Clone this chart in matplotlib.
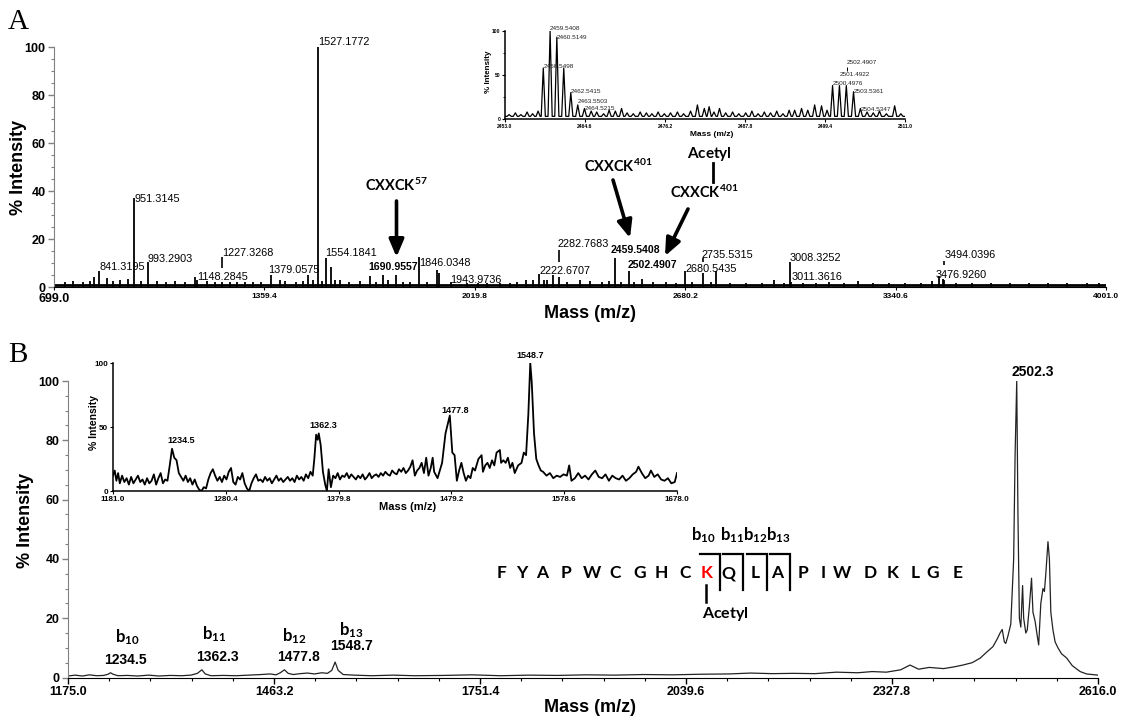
import matplotlib
matplotlib.use("Agg")
import matplotlib.pyplot as plt
from matplotlib.ticker import MultipleLocator, FixedLocator, NullLocator
from matplotlib.patches import FancyArrowPatch
from matplotlib.lines import Line2D

plt.rcParams["font.family"] = ["Liberation Sans", "DejaVu Sans"]
plt.rcParams["mathtext.fontset"] = "custom"
plt.rcParams["mathtext.bf"] = "Lato:bold"
plt.rcParams["mathtext.rm"] = "Lato"
plt.rcParams["mathtext.it"] = "Lato:italic"

# ---------------- data: panel A, full MS spectrum (centroid peaks) ----------------
spec_a_mz = [
    735, 760, 790, 812, 824.5, 841.3195, 864, 885, 906, 932,
    951.3145, 972, 993.2903, 1021, 1050, 1078.7, 1110, 1141, 1148.2845, 1178,
    1205, 1227.3268, 1250, 1272, 1300, 1323, 1350, 1379.0575, 1408, 1424,
    1460, 1480, 1497, 1512, 1527.1772, 1540, 1554.1841, 1568, 1581, 1596.5,
    1624.6, 1659, 1690.9557, 1710, 1732, 1747, 1774, 1795, 1816, 1846.0348,
    1870, 1901.8, 1907, 1943.9736, 1994, 2030, 2056.6, 2098, 2130, 2151,
    2182, 2202, 2222.6707, 2235.5, 2245, 2265, 2282.7683, 2310, 2349, 2381,
    2420, 2440, 2459.5408, 2480, 2502.4907, 2520, 2544, 2580, 2620, 2650,
    2680.5435, 2700, 2735.5315, 2760, 2776, 2820, 2870, 2920, 2958, 2990,
    3008.3252, 3011.3616, 3050, 3090, 3132, 3180, 3224, 3270, 3320, 3370,
    3420, 3454, 3476.9260, 3488, 3494.0396, 3530, 3580, 3640, 3700, 3760,
    3820, 3880, 3940, 3980]
spec_a_int = [
    2, 2.5, 2, 2.5, 4, 6.5, 3.7, 2.5, 3, 3.5,
    37, 2.5, 10.5, 2.5, 2, 2.5, 2, 4, 3, 2.5,
    2, 2, 2, 2, 2, 2, 2, 5, 3, 2.5,
    2, 2.5, 5, 3, 100, 2.5, 12, 8.5, 3, 3,
    2, 2.5, 4.5, 2, 5, 3, 5, 2, 2, 12.5,
    2, 7, 6, 2, 1.5, 1.5, 1.5, 1.5, 1.5, 2,
    3, 3, 5.5, 3, 3, 5, 4, 2, 3, 2.5,
    2, 2.5, 12, 2, 6.8, 2, 3.5, 2, 2, 1.5,
    6.8, 2, 6, 2, 6.5, 1.5, 1.5, 1.5, 3, 1.5,
    10.5, 2, 1.5, 1.5, 2, 1.5, 2.5, 1.5, 1.5, 1.5,
    1.5, 2.5, 4.5, 3.5, 3, 1.5, 1.5, 1.5, 1.5, 1.5,
    1.5, 1.5, 1.5, 1.5]
spec_a_baseline = 0.7

# labelled peaks of panel A
a_label_mz = [841.3195, 951.3145, 993.2903, 1148.2845, 1227.3268, 1379.0575,
              1527.1772, 1554.1841, 1690.9557, 1846.0348, 1943.9736, 2222.6707,
              2282.7683, 2459.5408, 2502.4907, 2680.5435, 2735.5315, 3008.3252,
              3011.3616, 3494.0396, 3476.9260]
a_label_bold = [1690.9557, 2459.5408, 2502.4907]

# inset of panel A: zoom on the 2453-2511 region
inset_a_peak_mz = [2458.5498, 2459.5408, 2460.5149, 2461.52, 2462.5415, 2463.5503,
                   2464.5215, 2500.4976, 2501.4922, 2502.4907, 2503.5361, 2504.5347]
inset_a_peak_int = [58, 100, 93, 58, 30, 16, 12, 38, 38, 38, 31, 12]
inset_a_labelled = [2458.5498, 2459.5408, 2460.5149, 2462.5415, 2463.5503, 2464.5215,
                    2500.4976, 2501.4922, 2502.4907, 2503.5361, 2504.5347]
inset_a_noise_mz = [
    2453.6, 2454.5, 2455.3, 2456.2, 2457.0, 2457.8, 2465.5, 2466.3, 2467.3, 2468.1,
    2469.0, 2469.9, 2470.7, 2471.6, 2472.6, 2473.5, 2474.3, 2475.2, 2476.1, 2477.0,
    2478.0, 2478.9, 2479.9, 2480.9, 2481.9, 2482.6, 2483.3, 2484.1, 2485.0, 2486.0,
    2486.9, 2487.9, 2488.8, 2489.7, 2490.6, 2491.5, 2492.4, 2493.3, 2494.2, 2495.0,
    2496.0, 2496.9, 2497.9, 2498.9, 2499.7, 2505.5, 2506.4, 2507.3, 2508.3, 2509.5,
    2510.4]
inset_a_noise_int = [
    5, 7, 5, 8, 6, 9, 9, 8, 6, 10,
    9, 12, 7, 6, 8, 7, 6, 8, 6, 7,
    8, 6, 9, 16, 12, 14, 8, 12, 7, 8,
    6, 7, 9, 6, 8, 7, 9, 6, 10, 10,
    12, 10, 16, 15, 10, 8, 7, 9, 6, 15,
    6]
inset_a_baseline = 3

# ---------------- data: panel B, MS/MS of m/z 2502.3 ----------------
b_trace_mz = [
    1175, 1185, 1195, 1205, 1215, 1225, 1231, 1234.5, 1238, 1245,
    1258, 1272, 1288, 1302, 1318, 1334, 1347, 1356, 1362.3, 1367,
    1375, 1392, 1410, 1428, 1445, 1458, 1466, 1472, 1477.8, 1483,
    1490, 1500, 1510, 1520, 1530, 1538, 1544, 1548.7, 1553, 1560,
    1575, 1600, 1630, 1660, 1700, 1740, 1780, 1820, 1860, 1900,
    1940, 1980, 2020, 2060, 2100, 2130, 2160, 2190, 2220, 2250,
    2280, 2300, 2320, 2340, 2353, 2365, 2380, 2400, 2415, 2427,
    2440, 2451, 2460, 2469, 2475, 2479, 2482, 2485, 2487, 2490,
    2494, 2498, 2500, 2502.3, 2504, 2506, 2508, 2510.5, 2512, 2515,
    2517, 2520, 2523, 2525, 2528, 2531, 2533, 2536, 2539, 2541,
    2543, 2546, 2548, 2550, 2553, 2556, 2560, 2565, 2572, 2580,
    2591, 2600, 2616]
b_trace_int = [
    0.5, 0.8, 0.5, 0.9, 0.6, 0.7, 1.1, 1.6, 1.1, 0.6,
    0.7, 0.5, 0.8, 0.5, 0.7, 0.6, 0.8, 1.4, 2.6, 1.2,
    0.6, 0.7, 0.6, 0.8, 1.0, 1.2, 0.9, 1.6, 2.6, 1.4,
    1.0, 1.3, 1.5, 1.2, 1.6, 1.4, 2.4, 5.2, 2.4, 1.0,
    0.8, 0.6, 0.8, 0.6, 0.7, 0.9, 0.6, 0.8, 0.7, 0.9,
    0.8, 1.0, 0.9, 1.1, 1.2, 1.5, 1.3, 1.4, 1.3, 1.8,
    1.6, 2.0, 1.8, 2.6, 4.2, 2.8, 3.4, 3.0, 3.6, 4.2,
    5.0, 6.5, 8.5, 10.4, 13.0, 15.0, 16.2, 12.0, 11.5, 14.0,
    18.0, 40.0, 75.0, 100.0, 55.0, 20.0, 17.0, 31.0, 20.0, 15.0,
    16.0, 24.0, 33.5, 22.0, 19.0, 14.0, 11.0, 25.0, 30.0, 29.0,
    35.0, 45.8, 40.0, 22.0, 16.0, 12.0, 10.0, 8.0, 6.6, 4.0,
    2.0, 1.2, 0.8]
precursor_mz = 2502.3
b_ion_names = ["10", "11", "12", "13"]
b_ion_mz = [1234.5, 1362.3, 1477.8, 1548.7]

# inset of panel B: zoom on the b-ion region
b_inset_mz = [
    1181, 1182.5, 1184, 1185.5, 1187, 1189, 1191, 1193, 1195, 1197,
    1199, 1201, 1203, 1205, 1207, 1209, 1211, 1213, 1215, 1217,
    1219, 1221, 1223, 1225, 1227, 1229, 1231, 1233, 1235, 1237,
    1239, 1241, 1243, 1245, 1247, 1249, 1251, 1253, 1255, 1257,
    1259, 1261, 1263, 1265, 1267, 1269, 1271, 1273, 1275, 1277,
    1279, 1281, 1283, 1285, 1287, 1289, 1291, 1293, 1295, 1297,
    1299, 1301, 1303, 1305, 1307, 1309, 1311, 1313, 1315, 1317,
    1319, 1321, 1323, 1325, 1327, 1329, 1331, 1333, 1335, 1337,
    1339, 1341, 1343, 1345, 1347, 1349, 1351, 1353, 1355, 1357,
    1358.5, 1360, 1361.3, 1362.3, 1364, 1366, 1368, 1369.5, 1371, 1373,
    1375, 1377, 1379, 1381, 1383, 1385, 1387, 1389, 1391, 1393,
    1395, 1397, 1399, 1401, 1403, 1405, 1407, 1409, 1411, 1413,
    1415, 1417, 1419, 1421, 1423, 1425, 1427, 1429, 1431, 1433,
    1435, 1437, 1439, 1441, 1443, 1445, 1447, 1449, 1451, 1453,
    1455, 1457, 1459, 1461, 1462.7, 1464, 1467, 1471, 1474, 1477.8,
    1480, 1482, 1484, 1486, 1488, 1490, 1492, 1494, 1496, 1498,
    1500, 1503, 1505.8, 1507, 1509, 1511, 1513, 1515, 1517, 1519,
    1521.9, 1523, 1525, 1527, 1529, 1531, 1533, 1535, 1538, 1541,
    1543, 1545, 1547, 1548.7, 1550, 1552, 1554, 1556, 1558, 1560,
    1563, 1566, 1569, 1572, 1575, 1578, 1581, 1583, 1585, 1588,
    1591, 1594, 1597, 1600, 1603, 1606, 1609, 1612, 1615, 1618,
    1621, 1624, 1627, 1630, 1633, 1636, 1639, 1642, 1644, 1647,
    1650, 1653, 1655, 1658, 1661, 1664, 1667, 1670, 1673, 1676,
    1678]
b_inset_int = [
    12, 16, 8, 14, 6, 12, 7, 10, 5, 11,
    6, 9, 12, 7, 9, 5, 10, 6, 8, 13,
    5, 10, 14, 6, 9, 8, 20, 33, 26, 24,
    14, 11, 8, 12, 7, 10, 5, 9, 4, 1,
    0, 3, 2, 9, 14, 17, 12, 8, 11, 7,
    12, 9, 15, 18, 7, 5, 11, 9, 14, 6,
    2, 0, 6, 10, 13, 8, 9, 7, 11, 8,
    10, 6, 9, 12, 8, 10, 7, 9, 11, 8,
    10, 7, 12, 9, 11, 8, 13, 10, 15, 12,
    26, 44, 40, 45, 36, 15, 5, 0, 17, 3,
    12, 10, 14, 9, 12, 11, 14, 10, 13, 11,
    9, 12, 10, 13, 9, 11, 14, 10, 12, 13,
    11, 14, 12, 15, 13, 12, 16, 14, 13, 17,
    15, 18, 14, 16, 19, 24, 12, 16, 18, 22,
    14, 26, 12, 18, 26, 15, 10, 22, 45, 59,
    30, 28, 8, 16, 22, 14, 8, 12, 10, 18,
    16, 25, 28, 15, 20, 22, 18, 24, 20, 30,
    32, 22, 24, 22, 26, 18, 22, 14, 20, 22,
    30, 28, 60, 100, 85, 45, 25, 20, 16, 15,
    12, 14, 10, 12, 11, 13, 12, 20, 8, 10,
    14, 10, 12, 9, 13, 16, 11, 10, 13, 8,
    12, 10, 9, 12, 8, 10, 13, 15, 19, 14,
    10, 12, 16, 11, 13, 9, 8, 10, 6, 7,
    14]
b_inset_labels = [1234.5, 1362.3, 1477.8, 1548.7]

# peptide sequence with the acetylated lysine
sequence = list("FYAPWCGHCKQLAPIWDKLGE")
acetyl_index = 9

# ---------------- figure ----------------
W, H, DPI = 1128, 721, 100
fig = plt.figure(figsize=(W / DPI, H / DPI), dpi=DPI)


def frac(px, py):
    return px / W, 1 - py / H


def add_ax(left, top, right, bottom):
    return fig.add_axes([left / W, 1 - bottom / H, (right - left) / W, (bottom - top) / H])


def ftext(px, py, s, **kw):
    fig.text(px / W, 1 - py / H, s, **kw)


def fline(xs, ys, **kw):
    fig.add_artist(Line2D([x / W for x in xs], [1 - y / H for y in ys],
                          transform=fig.transFigure, **kw))


def farrow(p0, p1):
    fig.add_artist(FancyArrowPatch(frac(*p0), frac(*p1), transform=fig.transFigure,
                                   arrowstyle="-|>,head_length=0.75,head_width=0.32",
                                   mutation_scale=14, lw=2.6, color="black",
                                   shrinkA=0, shrinkB=0))


def style_main(ax, gray_left=True):
    for s in ("top", "right"):
        ax.spines[s].set_visible(False)
    ax.spines["left"].set_color("#808080" if gray_left else "black")
    ax.spines["bottom"].set_color("black")
    ax.tick_params(axis="y", which="major", length=4, color="#808080", width=1,
                   labelsize=9, pad=2)
    ax.tick_params(axis="y", which="minor", length=2.5, color="#808080", width=0.8)
    for lab in ax.get_yticklabels():
        lab.set_fontweight("bold")


def style_inset(ax, fs):
    ax.set_facecolor("none")
    for s in ("top", "right"):
        ax.spines[s].set_visible(False)
    for s in ("left", "bottom"):
        ax.spines[s].set_linewidth(1.1)
    ax.tick_params(axis="both", which="major", length=2, width=0.8, labelsize=fs, pad=1.5)
    for lab in ax.get_xticklabels() + ax.get_yticklabels():
        lab.set_fontweight("bold")


# ---------------- panel A ----------------
axA = add_ax(54, 47, 1106, 287)
axA.set_xlim(699, 4001)
axA.set_ylim(0, 100)
axA.plot([699, 4001], [spec_a_baseline, spec_a_baseline], color="black", lw=2.0,
         solid_capstyle="butt")
axA.vlines(spec_a_mz, 0, spec_a_int, color="black", lw=1.3)

a_ticks = [699.0, 1359.4, 2019.8, 2680.2, 3340.6, 4001.0]
axA.set_xticks(a_ticks, [f"{t:.1f}" for t in a_ticks])
axA.yaxis.set_major_locator(MultipleLocator(20))
axA.yaxis.set_minor_locator(MultipleLocator(5))
style_main(axA)
axA.tick_params(axis="x", which="major", length=2.5, width=0.8, pad=2)
for i, lab in enumerate(axA.get_xticklabels()):
    lab.set_fontweight("bold")
    lab.set_fontsize(9 if i == 0 else 6)

# label placement: (m/z shift, text baseline in % intensity)
a_label_pos = {
    841.3195: (0, 7), 951.3145: (0, 35.5), 993.2903: (0, 10.3), 1148.2845: (0, 3),
    1227.3268: (0, 13), 1379.0575: (-7, 5.8), 1527.1772: (0, 100.8), 1554.1841: (-4, 13),
    1690.9557: (-6, 7), 1846.0348: (0, 8.7), 1943.9736: (0, 1.8), 2222.6707: (0, 5.4),
    2282.7683: (-4, 16.7), 2459.5408: (-14, 14), 2502.4907: (-2, 8), 2680.5435: (0, 6.4),
    2735.5315: (-3, 12), 3008.3252: (0, 11), 3011.3616: (3, 3), 3494.0396: (-1, 12),
    3476.9260: (-11, 3.6)}
a_leaders = {1227.3268: (8, 12.6), 2282.7683: (10.4, 15.4), 2735.5315: (10.5, 12),
             3494.0396: (9, 11)}
for mz in a_label_mz:
    dx, y = a_label_pos[mz]
    bold = mz in a_label_bold
    axA.text(mz + dx, y, f"{mz:.4f}", ha="left", va="baseline",
             fontsize=7.6 if bold else 7.8, fontweight="bold" if bold else "normal")
for mz, (y0, y1) in a_leaders.items():
    axA.vlines(mz, y0, y1, color="black", lw=1.2)

ftext(19, 167, "% Intensity", rotation=90, ha="center", va="center",
      fontsize=13, fontweight="bold")
ftext(590, 313, "Mass (m/z)", ha="center", va="center", fontsize=13, fontweight="bold")
ftext(8, 22, "A", fontsize=21, family=["Liberation Serif", "DejaVu Serif"],
      ha="left", va="center")

# annotations of the cysteine-containing peptides
ftext(396, 185, r"$\mathbf{CXXCK^{57}}$", ha="center", va="center", fontsize=10.5)
farrow((396.5, 201), (396.5, 257))
ftext(618, 166, r"$\mathbf{CXXCK^{401}}$", ha="center", va="center", fontsize=10.5)
farrow((613, 180), (630, 238))
ftext(709, 154, r"$\mathbf{Acetyl}$", ha="center", va="center", fontsize=11)
fline([712.5, 712.5], [163, 182], color="black", lw=2)
ftext(704, 192, r"$\mathbf{CXXCK^{401}}$", ha="center", va="center", fontsize=10.5)
farrow((688, 209), (665, 256))

# inset A
axAi = add_ax(505, 31, 905, 119)
feat = sorted(zip(inset_a_peak_mz + inset_a_noise_mz, inset_a_peak_int + inset_a_noise_int))
half_w = 0.3
xs = [2453.0]
ys = [inset_a_baseline]
for c, h in feat:
    xs += [c - half_w, c, c + half_w]
    ys += [inset_a_baseline, h, inset_a_baseline]
xs.append(2511.0)
ys.append(inset_a_baseline)
axAi.plot(xs, ys, color="black", lw=0.9)
axAi.set_xlim(2453, 2511)
axAi.set_ylim(0, 100)
ia_ticks = [2453.0, 2464.6, 2476.2, 2487.8, 2499.4, 2511.0]
axAi.set_xticks(ia_ticks, [f"{t:.1f}" for t in ia_ticks])
axAi.set_yticks([0, 50, 100])
axAi.yaxis.set_minor_locator(MultipleLocator(25))
axAi.tick_params(axis="y", which="minor", length=1.2, width=0.6)
style_inset(axAi, 3.6)
ia_label_y = {2458.5498: 57.6, 2459.5408: 101, 2460.5149: 91, 2462.5415: 30,
              2463.5503: 18.5, 2464.5215: 10, 2500.4976: 38.6, 2501.4922: 49,
              2502.4907: 62.5, 2503.5361: 30, 2504.5347: 9.5}
for mz in inset_a_labelled:
    axAi.text(mz, ia_label_y[mz], f"{mz:.4f}", ha="left", va="baseline",
              fontsize=4.6, color="#222222")
axAi.vlines(2502.6, 54, 59, color="black", lw=0.7)
ftext(488, 72, "% Intensity", rotation=90, ha="center", va="center",
      fontsize=5.8, fontweight="bold")
ftext(712, 134, "Mass (m/z)", ha="center", va="center", fontsize=6, fontweight="bold")

# ---------------- panel B ----------------
axB = add_ax(68, 381, 1098, 677.5)
axB.plot(b_trace_mz, b_trace_int, color="#222222", lw=0.9)
axB.set_xlim(1175, 2616)
axB.set_ylim(0, 100)
b_ticks = [1175.0, 1463.2, 1751.4, 2039.6, 2327.8, 2616.0]
axB.set_xticks(b_ticks, [f"{t:.1f}" for t in b_ticks])
axB.xaxis.set_minor_locator(FixedLocator([1175.0 + 57.64 * k for k in range(26)]))
axB.yaxis.set_major_locator(MultipleLocator(20))
axB.yaxis.set_minor_locator(MultipleLocator(5))
style_main(axB)
axB.tick_params(axis="x", which="major", length=4, width=1, labelsize=9, pad=2)
axB.tick_params(axis="x", which="minor", length=2.5, width=0.8)
for lab in axB.get_xticklabels():
    lab.set_fontweight("bold")

b_name_pos = [(23, 13.6), (17, 14.7), (14, 13.8), (22, 16.0)]
b_val_pos = [(21, 5.9), (22, 7.0), (20, 6.8), (23, 10.7)]
for name, mz, (dn, yn), (dv, yv) in zip(b_ion_names, b_ion_mz, b_name_pos, b_val_pos):
    axB.text(mz + dn, yn, r"$\mathbf{b_{" + name + "}}$", ha="center", va="center",
             fontsize=12)
    axB.text(mz + dv, yv, f"{mz:.1f}", ha="center", va="center", fontsize=10,
             fontweight="bold")
axB.text(precursor_mz + 23, 103.2, f"{precursor_mz:.1f}", ha="center", va="center",
         fontsize=10, fontweight="bold")

ftext(25, 520, "% Intensity", rotation=90, ha="center", va="center",
      fontsize=13, fontweight="bold")
ftext(590, 708, "Mass (m/z)", ha="center", va="center", fontsize=13, fontweight="bold")
ftext(8, 355, "B", fontsize=21, family=["Liberation Serif", "DejaVu Serif"],
      ha="left", va="center")

# inset B
axBi = add_ax(113, 363, 677, 491)
axBi.plot(b_inset_mz, b_inset_int, color="black", lw=1.3)
axBi.set_xlim(1181, 1678)
axBi.set_ylim(0, 100)
ib_ticks = [1181.0, 1280.4, 1379.8, 1479.2, 1578.6, 1678.0]
axBi.set_xticks(ib_ticks, [f"{t:.1f}" for t in ib_ticks])
axBi.set_yticks([0, 50, 100])
style_inset(axBi, 5.8)
ib_label_pos = [(7, 37.5), (4, 49), (5, 61), (0, 104)]
for mz, (dx, y) in zip(b_inset_labels, ib_label_pos):
    axBi.text(mz + dx, y, f"{mz:.1f}", ha="center", va="baseline", fontsize=6.5,
              fontweight="bold")
ftext(94, 422, "% Intensity", rotation=90, ha="center", va="center",
      fontsize=7.5, fontweight="bold")
ftext(408, 507, "Mass (m/z)", ha="center", va="center", fontsize=8, fontweight="bold")

# peptide sequence with b-ion cleavage brackets
seq_x = [501.7, 521.7, 541.7, 566, 591.7, 615, 640, 661.7, 685, 706.7, 728.3,
         755, 776.7, 803.3, 823.3, 841.7, 870, 893, 915, 933, 958]
for i, (ch, x) in enumerate(zip(sequence, seq_x)):
    ftext(x, 573.5, ch, ha="center", va="center", fontsize=12.5,
          family=["Lato", "DejaVu Sans"], fontweight="bold",
          color="red" if i == acetyl_index else "black")
cut_x = [720, 743.3, 766.7, 790]
label_x = [703, 731.7, 755, 778.3]
for name, cx, lx in zip(b_ion_names, cut_x, label_x):
    fline([cx - 20, cx, cx], [553.5, 553.5, 590], color="black", lw=1.6,
          solid_joinstyle="miter")
    ftext(lx, 535, r"$\mathbf{b_{" + name + "}}$", ha="center", va="center", fontsize=12)
fline([706, 706], [585, 601.5], color="black", lw=1.8)
ftext(725, 614, r"$\mathbf{Acetyl}$", ha="center", va="center", fontsize=11.5)

fig.savefig("out.png", dpi=DPI)
